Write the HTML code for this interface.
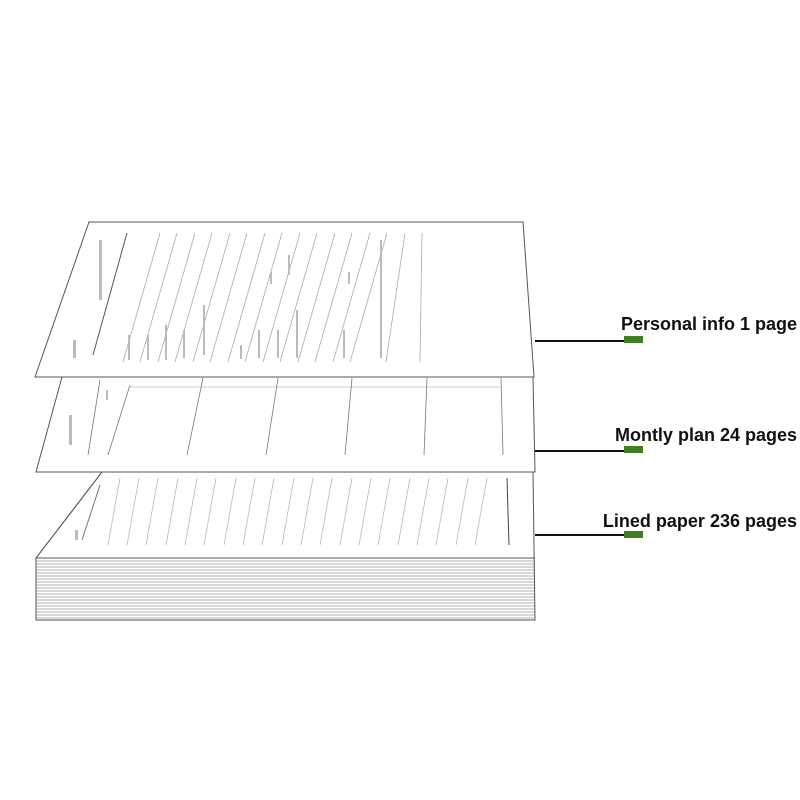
<!DOCTYPE html>
<html><head><meta charset="utf-8"><style>
html,body{margin:0;padding:0;background:#fff;width:800px;height:800px;overflow:hidden}
.t{font-family:"Liberation Sans",sans-serif;font-weight:bold;font-size:18px;fill:#111}
</style></head><body>
<svg width="800" height="800" viewBox="0 0 800 800" xmlns="http://www.w3.org/2000/svg">
<g stroke="#999" stroke-width="0.8">
<line x1="36" y1="558" x2="535" y2="558"/><line x1="36" y1="561" x2="535" y2="561"/><line x1="36" y1="564" x2="535" y2="564"/><line x1="36" y1="567" x2="535" y2="567"/><line x1="36" y1="570" x2="535" y2="570"/><line x1="36" y1="573" x2="535" y2="573"/><line x1="36" y1="576" x2="535" y2="576"/><line x1="36" y1="579" x2="535" y2="579"/><line x1="36" y1="582" x2="535" y2="582"/><line x1="36" y1="585" x2="535" y2="585"/><line x1="36" y1="588" x2="535" y2="588"/><line x1="36" y1="591" x2="535" y2="591"/><line x1="36" y1="594" x2="535" y2="594"/><line x1="36" y1="597" x2="535" y2="597"/><line x1="36" y1="600" x2="535" y2="600"/><line x1="36" y1="603" x2="535" y2="603"/><line x1="36" y1="606" x2="535" y2="606"/><line x1="36" y1="609" x2="535" y2="609"/><line x1="36" y1="612" x2="535" y2="612"/><line x1="36" y1="615" x2="535" y2="615"/><line x1="36" y1="618" x2="535" y2="618"/>
</g>
<polygon points="102,472 533,472 535,620 36,620 36,558" fill="none" stroke="#555" stroke-width="1"/>
<line x1="102" y1="472" x2="36" y2="558" stroke="#555"/>
<line x1="36" y1="558" x2="535" y2="558" stroke="#555"/>
<g stroke="#bbb" stroke-width="0.8">
<line x1="120" y1="478" x2="108" y2="545"/><line x1="139" y1="478" x2="127" y2="545"/><line x1="158" y1="478" x2="146" y2="545"/><line x1="178" y1="478" x2="166" y2="545"/><line x1="197" y1="478" x2="185" y2="545"/><line x1="216" y1="478" x2="204" y2="545"/><line x1="236" y1="478" x2="224" y2="545"/><line x1="255" y1="478" x2="243" y2="545"/><line x1="274" y1="478" x2="262" y2="545"/><line x1="294" y1="478" x2="282" y2="545"/><line x1="313" y1="478" x2="301" y2="545"/><line x1="332" y1="478" x2="320" y2="545"/><line x1="352" y1="478" x2="340" y2="545"/><line x1="371" y1="478" x2="359" y2="545"/><line x1="390" y1="478" x2="378" y2="545"/><line x1="410" y1="478" x2="398" y2="545"/><line x1="429" y1="478" x2="417" y2="545"/><line x1="448" y1="478" x2="436" y2="545"/><line x1="468" y1="478" x2="456" y2="545"/><line x1="487" y1="478" x2="475" y2="545"/>
</g>
<line x1="507" y1="478" x2="509" y2="545" stroke="#444"/>
<line x1="100" y1="485" x2="82" y2="540" stroke="#777"/>
<rect x="75" y="530" width="3" height="10" fill="#bbb"/>
<polygon points="62,377 533,377 535,472 36,472" fill="#fff" stroke="#555"/>
<line x1="130" y1="387" x2="500" y2="387" stroke="#ccc"/>
<g stroke="#777" stroke-width="0.8">
<line x1="203" y1="378" x2="187" y2="455"/><line x1="278" y1="378" x2="266" y2="455"/><line x1="352" y1="378" x2="345" y2="455"/><line x1="427" y1="378" x2="424" y2="455"/><line x1="501" y1="378" x2="503" y2="455"/>
<line x1="100" y1="380" x2="88" y2="455"/><line x1="130" y1="385" x2="108" y2="455"/>
</g>
<g fill="#bbb"><rect x="69" y="415" width="3" height="30"/><rect x="106" y="390" width="2" height="10"/></g>
<polygon points="89,222 523,222 534,377 35,377" fill="#fff" stroke="#555"/>
<g stroke="#aaa" stroke-width="0.8">
<line x1="160" y1="233" x2="123" y2="362"/><line x1="177" y1="233" x2="140" y2="362"/><line x1="195" y1="233" x2="158" y2="362"/><line x1="212" y1="233" x2="175" y2="362"/><line x1="230" y1="233" x2="193" y2="362"/><line x1="247" y1="233" x2="210" y2="362"/><line x1="265" y1="233" x2="228" y2="362"/><line x1="282" y1="233" x2="245" y2="362"/><line x1="300" y1="233" x2="263" y2="362"/><line x1="317" y1="233" x2="280" y2="362"/><line x1="335" y1="233" x2="298" y2="362"/><line x1="352" y1="233" x2="315" y2="362"/><line x1="370" y1="233" x2="333" y2="362"/><line x1="387" y1="233" x2="350" y2="362"/><line x1="405" y1="233" x2="386" y2="362"/><line x1="422" y1="233" x2="420" y2="362"/>
</g>
<line x1="127" y1="233" x2="93" y2="355" stroke="#555"/>
<g fill="#bbb">
<rect x="73" y="340" width="3" height="18"/><rect x="99" y="240" width="3" height="60"/>
<rect x="128" y="335" width="2" height="25"/><rect x="147" y="335" width="2" height="25"/><rect x="165" y="325" width="2" height="35"/><rect x="183" y="330" width="2" height="28"/><rect x="203" y="305" width="2" height="50"/>
<rect x="240" y="345" width="2" height="14"/><rect x="258" y="330" width="2" height="28"/><rect x="277" y="330" width="2" height="28"/><rect x="296" y="310" width="2" height="48"/>
<rect x="270" y="272" width="2" height="12"/><rect x="288" y="255" width="2" height="20"/>
<rect x="343" y="330" width="2" height="28"/><rect x="348" y="272" width="2" height="12"/><rect x="380" y="240" width="2" height="118"/>
</g>
<g stroke="#111" stroke-width="2">
<line x1="535" y1="341" x2="624" y2="341"/>
<line x1="535" y1="451" x2="624" y2="451"/>
<line x1="535" y1="535" x2="624" y2="535"/>
</g>
<g fill="#3f7f22">
<rect x="624" y="336" width="19" height="7"/>
<rect x="624" y="446" width="19" height="7"/>
<rect x="624" y="531" width="19" height="7"/>
</g>
<text class="t" x="797" y="330" text-anchor="end">Personal info 1 page</text>
<text class="t" x="797" y="441" text-anchor="end">Montly plan 24 pages</text>
<text class="t" x="797" y="527" text-anchor="end">Lined paper 236 pages</text>
</svg>
</body></html>
